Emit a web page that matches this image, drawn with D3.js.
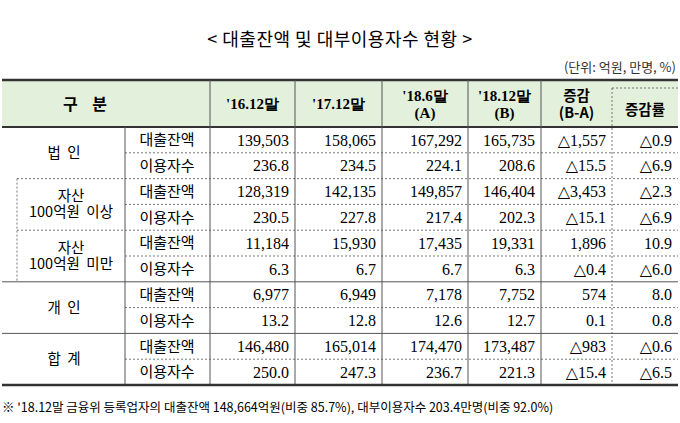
<!DOCTYPE html><html><head><meta charset="utf-8"><script src="https://cdn.jsdelivr.net/npm/d3@7"></script>
<style>body{margin:0;background:#fff}text{white-space:pre}</style></head><body><script>
const title="< 대출잔액 및 대부이용자수 현황 >";
const unit="(단위: 억원, 만명, %)";
const headers=["'16.12말","'17.12말","'18.6말\n(A)","'18.12말\n(B)","증감\n(B-A)","증감률"];
const groups=["법  인","자산\n100억원  이상","자산\n100억원  미만","개  인","합  계"];
const subs=["대출잔액","이용자수"];
const values=[
["139,503","158,065","167,292","165,735","△1,557","△0.9"],
["236.8","234.5","224.1","208.6","△15.5","△6.9"],
["128,319","142,135","149,857","146,404","△3,453","△2.3"],
["230.5","227.8","217.4","202.3","△15.1","△6.9"],
["11,184","15,930","17,435","19,331","1,896","10.9"],
["6.3","6.7","6.7","6.3","△0.4","△6.0"],
["6,977","6,949","7,178","7,752","574","8.0"],
["13.2","12.8","12.6","12.7","0.1","0.8"],
["146,480","165,014","174,470","173,487","△983","△0.6"],
["250.0","247.3","236.7","221.3","△15.4","△6.5"]];
const footnote="※ '18.12말 금융위 등록업자의 대출잔액 148,664억원(비중 85.7%), 대부이용자수 203.4만명(비중 92.0%)";
const W=680,H=423;
const svg=d3.select("body").append("svg").attr("width",W).attr("height",H);
const serif="'Liberation Serif','DejaVu Serif',serif", sans="'Noto Sans CJK KR',sans-serif";
const colX=[2,125,210,295,382,468,541,612,678];
const y=d3.scaleLinear().domain([0,10]).range([127,385]);
svg.append("text").attr("x",340).attr("y",46).attr("text-anchor","middle").attr("font-family",sans).attr("font-size",18).attr("letter-spacing",0.5).text(title);
svg.append("text").attr("x",676).attr("y",72).attr("text-anchor","end").attr("font-family",sans).attr("font-size",13).attr("fill","#333").text(unit);
svg.append("rect").attr("x",2).attr("y",80).attr("width",676).attr("height",47).attr("fill","#e3f1dc");
const ln=(x1,y1,x2,y2,w,d)=>svg.append("line").attr("x1",x1).attr("y1",y1).attr("x2",x2).attr("y2",y2).attr("stroke",w>1.5?"#333":"#555").attr("stroke-width",w).attr("stroke-dasharray",d||null);
function mtext(x,cy,str,font,size,weight,anchor,lh){lh=lh||18;const ls=str.split("\n");const t=svg.append("text").attr("font-family",font).attr("font-size",size).attr("font-weight",weight||"normal").attr("text-anchor",anchor||"middle");
ls.forEach((l,i)=>t.append("tspan").attr("x",x).attr("y",cy+(i-(ls.length-1)/2)*lh+size*0.35).text(l));}
mtext(85,104,"구    분",sans,16,"bold");
headers.forEach((h,i)=>{const cx=(colX[i+2]+colX[i+3])/2;mtext(cx,i==5?110:104,h,i>=4?sans:serif,i>=4?14.5:15,"bold","middle",17);});
ln(2,80,678,80,2.5);ln(2,127,678,127,2);
for(let i=2;i<=6;i++)ln(colX[i],80,colX[i],385,1);
ln(612,88,612,385,0.8,"2,2");ln(612,88,678,88,0.8,"2,2");
ln(125,127,125,385,1);
values.forEach((r,i)=>{const cy=(y(i)+y(i+1))/2;
 mtext(167,cy,subs[i%2],sans,15);
 r.forEach((v,j)=>mtext(colX[j+3]-6,cy,v,serif,16,"normal","end"));
 if(i%2==0&&i>0){const solid=(i==6||i==8);ln(solid?2:17,y(i),678,y(i),solid?1:0.8,solid?null:"2,2");}
 if(i%2==1)ln(125,y(i),678,y(i),0.8,"2,2");
});
ln(17,y(2),17,y(6),0.8,"2,2");
groups.forEach((g,k)=>{const cy=y(k*2+1);mtext(k==1||k==2?71:64,cy,g,sans,14.5,"normal","middle",16);});
ln(2,385,678,385,2.5);
svg.append("text").attr("x",2).attr("y",412).attr("font-family",sans).attr("font-size",12.5).text(footnote);
</script></body></html>
